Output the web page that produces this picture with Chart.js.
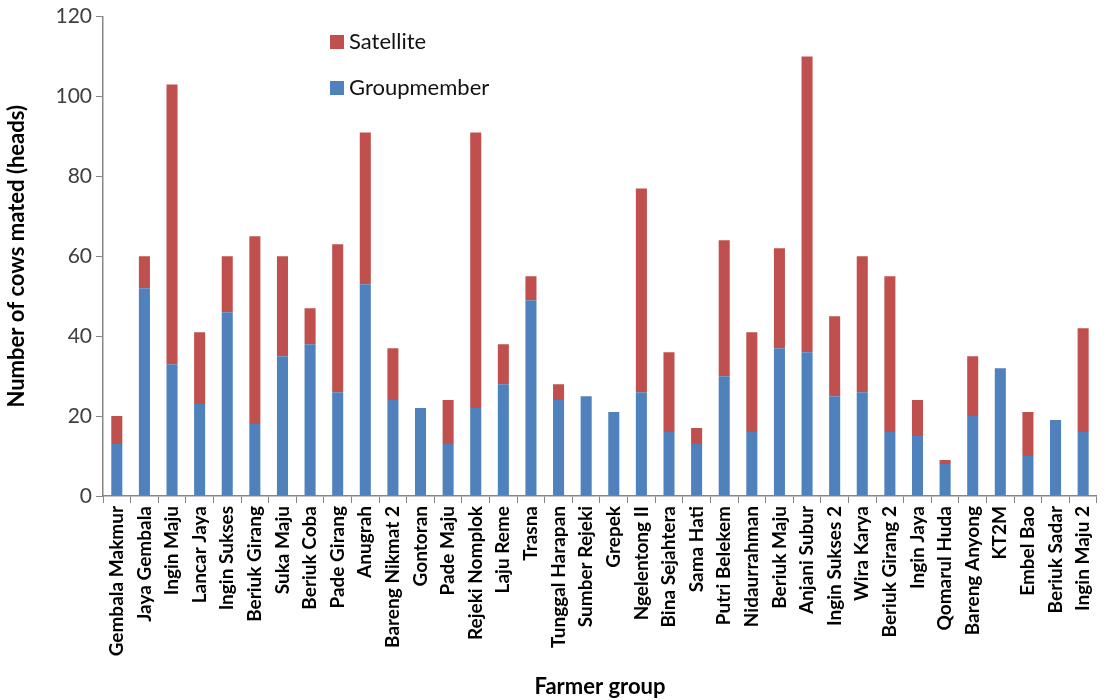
<!DOCTYPE html>
<html>
<head>
<meta charset="utf-8">
<script src="https://cdn.jsdelivr.net/npm/chart.js@4"></script>
<style>
  html, body { margin: 0; padding: 0; background: #fff; }
  #wrap { width: 1109px; height: 700px; }
</style>
</head>
<body>
<div id="wrap"><canvas id="cowChart" width="1109" height="700"></canvas></div>
<script>
// ---------- data ----------
const groups = [
  'Gembala Makmur', 'Jaya Gembala', 'Ingin Maju', 'Lancar Jaya', 'Ingin Sukses',
  'Beriuk Girang', 'Suka Maju', 'Beriuk Coba', 'Pade Girang', 'Anugrah',
  'Bareng Nikmat 2', 'Gontoran', 'Pade Maju', 'Rejeki Nomplok', 'Laju Reme',
  'Trasna', 'Tunggal Harapan', 'Sumber Rejeki', 'Grepek', 'Ngelentong II',
  'Bina Sejahtera', 'Sama Hati', 'Putri Belekem', 'Nidaurrahman', 'Beriuk Maju',
  'Anjani Subur', 'Ingin Sukses 2', 'Wira Karya', 'Beriuk Girang 2', 'Ingin Jaya',
  'Qomarul Huda', 'Bareng Anyong', 'KT2M', 'Embel Bao', 'Beriuk Sadar', 'Ingin Maju 2'
];
const groupMember = [
  13, 52, 33, 23, 46, 18, 35, 38, 26, 53,
  24, 22, 13, 22, 28, 49, 24, 25, 21, 26,
  16, 13, 30, 16, 37, 36, 25, 26, 16, 15,
  8, 20, 32, 10, 19, 16
];
const satellite = [
  7, 8, 70, 18, 14, 47, 25, 9, 37, 38,
  13, 0, 11, 69, 10, 6, 4, 0, 0, 51,
  20, 4, 34, 25, 25, 74, 20, 34, 39, 9,
  1, 15, 0, 11, 0, 26
];
const yTicks = [0, 20, 40, 60, 80, 100, 120];

const FONT = 'Lato, "Open Sans", sans-serif';

// ---------- legend drawn inside the plot ----------
const innerLegend = {
  id: 'innerLegend',
  afterDraw(chart, args, opts) {
    const ctx = chart.ctx;
    const sets = chart.data.datasets.slice().reverse();
    ctx.save();
    ctx.font = '22px ' + FONT;
    ctx.textBaseline = 'middle';
    sets.forEach((ds, i) => {
      const y = opts.y + i * opts.gap;
      ctx.fillStyle = ds.backgroundColor;
      ctx.fillRect(opts.x, y - 7, 14, 14);
      ctx.fillStyle = '#111';
      ctx.fillText(ds.label, opts.x + 19, y);
    });
    ctx.restore();
  }
};

new Chart(document.getElementById('cowChart'), {
  type: 'bar',
  data: {
    labels: groups,
    datasets: [
      { label: 'Groupmember', data: groupMember, backgroundColor: '#4F81BD', barPercentage: 0.4, categoryPercentage: 1 },
      { label: 'Satellite', data: satellite, backgroundColor: '#C0504D', barPercentage: 0.4, categoryPercentage: 1 }
    ]
  },
  options: {
    responsive: false,
    animation: false,
    layout: { padding: { top: 10, right: 4, left: 4, bottom: 0 } },
    plugins: {
      legend: { display: false },
      tooltip: { enabled: false },
      innerLegend: { x: 330, y: 42, gap: 46 }
    },
    scales: {
      x: {
        stacked: true,
        afterFit(axis) { axis.height = 204; },
        grid: { display: true, drawOnChartArea: false, drawTicks: true, tickLength: 7, color: '#868686', offset: true },
        border: { color: '#868686', width: 1.5 },
        ticks: {
          autoSkip: false, minRotation: 90, maxRotation: 90,
          color: '#000', font: { family: FONT, size: 19, weight: 'bold' }, padding: 3
        },
        title: { display: true, text: 'Farmer group', color: '#000', font: { family: FONT, size: 22, weight: 'bold' }, padding: { top: 0, bottom: 0 } }
      },
      y: {
        stacked: true,
        min: 0, max: 120,
        afterFit(axis) { axis.width = 99; },
        afterBuildTicks(axis) { axis.ticks = yTicks.map((v) => ({ value: v })); },
        grid: { display: true, drawOnChartArea: false, drawTicks: true, tickLength: 7, color: '#868686' },
        border: { color: '#868686', width: 1.5 },
        ticks: { color: '#404040', font: { family: FONT, size: 21 }, padding: 4 },
        title: { display: true, text: 'Number of cows mated (heads)', color: '#000', font: { family: FONT, size: 22, weight: 'bold' }, padding: { top: 0, bottom: 0 } }
      }
    }
  },
  plugins: [innerLegend]
});
</script>
</body>
</html>
